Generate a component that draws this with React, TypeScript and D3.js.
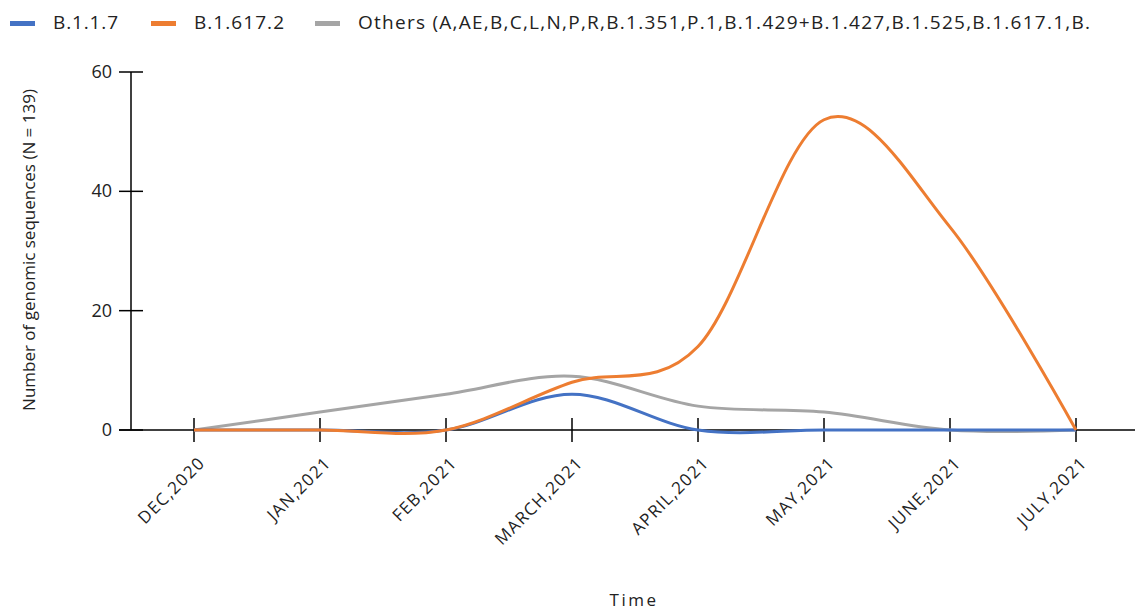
import React from "react";
import * as d3 from "d3";

const months = ["DEC,2020", "JAN,2021", "FEB,2021", "MARCH,2021", "APRIL,2021", "MAY,2021", "JUNE,2021", "JULY,2021"];
const b117 = [0, 0, 0, 6, 0, 0, 0, 0];
const b16172 = [0, 0, 0, 8, 14, 52, 34, 0];
const others = [0, 3, 6, 9, 4, 3, 0, 0];
const yTicks = [0, 20, 40, 60];

const seriesNames = ["B.1.1.7", "B.1.617.2", "Others (A,AE,B,C,L,N,P,R,B.1.351,P.1,B.1.429+B.1.427,B.1.525,B.1.617.1,B."];
const seriesColors = ["#4472c4", "#ed7d31", "#a5a5a5"];
const legendWidths = [65, 90, 732];

const W = 1135;
const H = 614;
const FONT = "'Open Sans', 'DejaVu Sans', sans-serif";

export default function App() {
  const left = 131;
  const x = d3.scaleBand<string>().domain(months).range([left, left + 126 * 8]);
  const y = d3.scaleLinear().domain([0, 60]).range([430, 72]);
  const cx = (m: string) => (x(m) as number) + x.bandwidth() / 2;

  const line = d3
    .line<number>()
    .x((_, i) => cx(months[i]))
    .y((v) => y(v))
    .curve(d3.curveCardinal.tension(0));

  const data = [b117, b16172, others];
  const drawOrder = [2, 0, 1];
  const legendX = [10, 151, 315];

  return (
    <svg width={W} height={H} style={{ position: "absolute", left: 0, top: 0 }} fontFamily={FONT}>
      <rect width={W} height={H} fill="#fff" />
      {/* legend */}
      {seriesNames.map((n, i) => (
        <g key={n}>
          <line x1={legendX[i]} x2={legendX[i] + 25} y1={23.5} y2={23.5} stroke={seriesColors[i]} strokeWidth={5} />
          <text
            x={legendX[i] + 43}
            y={29}
            fontSize={19}
            fill="#222"
            textLength={legendWidths[i]}
            lengthAdjust="spacing"
          >
            {n}
          </text>
        </g>
      ))}
      {/* y axis */}
      <line x1={left} x2={left} y1={y(60)} y2={y(0)} stroke="#000" strokeWidth={1.5} />
      {yTicks.map((t) => (
        <g key={t}>
          <line x1={left - 12} x2={left + 12} y1={y(t)} y2={y(t)} stroke="#000" strokeWidth={1.5} />
          <text x={112} y={y(t) + 6} textAnchor="end" fontSize={18} fill="#222">{t}</text>
        </g>
      ))}
      {/* x axis */}
      <line x1={left - 12} x2={W} y1={y(0)} y2={y(0)} stroke="#000" strokeWidth={1.5} />
      {months.map((m) => (
        <g key={m}>
          <line x1={cx(m)} x2={cx(m)} y1={y(0) - 12} y2={y(0) + 12} stroke="#000" strokeWidth={1.5} />
          <text
            transform={`translate(${cx(m) + 12},${y(0) + 34}) rotate(-45)`}
            textAnchor="end"
            fontSize={17}
            letterSpacing={1.3}
            fill="#222"
          >
            {m}
          </text>
        </g>
      ))}
      {/* lines */}
      {drawOrder.map((i) => (
        <path key={i} d={line(data[i]) || ""} fill="none" stroke={seriesColors[i]} strokeWidth={3} />
      ))}
      {/* axis titles */}
      <text transform={`translate(35,250) rotate(-90)`} textAnchor="middle" fontSize={17} fill="#222">
        Number of genomic sequences (N = 139)
      </text>
      <text x={634} y={606} textAnchor="middle" fontSize={17} letterSpacing={2.5} fill="#222">Time</text>
    </svg>
  );
}
